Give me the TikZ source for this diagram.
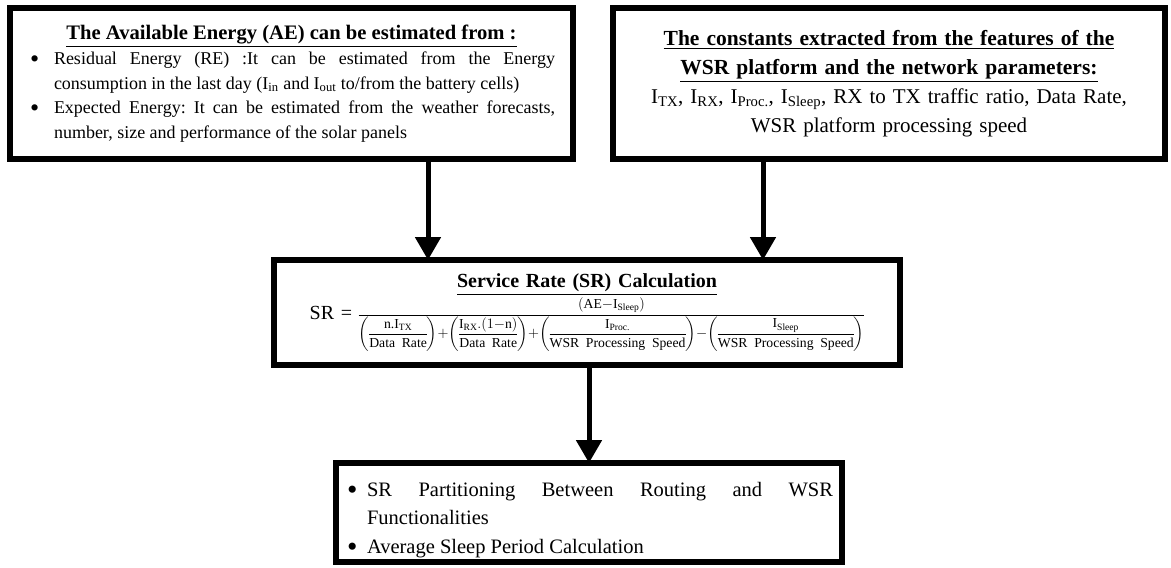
\documentclass[tikz,border=0pt]{standalone}
\usepackage{amsmath}
\usepackage{graphicx}
\usepackage{fontspec}
\setmainfont{Liberation Serif}
\usetikzlibrary{arrows.meta}

\tikzset{
    box/.style={draw, line width=6pt, inner sep=0pt, outer sep=0pt},
    flow/.style={line width=5pt, -{Triangle[length=23pt,width=25pt]}},
}
% 带圆点的条目 (悬挂缩进)
\newcommand{\bulitem}[2]{\par\hangindent=#1\hangafter=1\noindent\makebox[#1][l]{\hspace{2pt}\raisebox{-0.17em}{\scalebox{1.45}{\textbullet}}}#2}
% 分母中的括号分式
\newcommand{\pfrac}[2]{{\left(\dfrac{#1}{#2}\right)}}

\begin{document}
\frenchspacing
\begin{tikzpicture}[x=1pt, y=-1pt]
            % 画布大小 (与原图像素一致)
            \useasboundingbox (0,0) rectangle (1171,568);

            % 左上框: 可用能量
            \node[box, minimum width=563pt, minimum height=151pt, text width=527pt, align=justify,
                  font=\fontsize{18}{24.5}\selectfont] (ae) at (291.5,83.5) {%
                {\centering\fontsize{20.6}{27}\selectfont\bfseries\underline{The Available Energy (AE) can be estimated from :}\par}
                \vspace{1pt}
                \bulitem{26pt}{Residual Energy (RE) :It can be estimated from the Energy\linebreak
                    consumption in the last day (I\textsubscript{in} and I\textsubscript{out} to/from the battery cells)}
                \bulitem{26pt}{Expected Energy: It can be estimated from the weather forecasts,\linebreak
                    number, size and performance of the solar panels}\par};

            % 右上框: 平台常数
            \node[box, minimum width=552pt, minimum height=151pt, text width=540pt, align=center,
                  font=\fontsize{21}{29}\selectfont] (cst) at (889,83.5) {%
                {\fontsize{21.5}{29}\selectfont\bfseries\underline{The constants extracted from the features of the}}\\
                {\fontsize{21.5}{29}\selectfont\bfseries\underline{WSR platform and the network parameters:}}\\
                I\textsubscript{TX}, I\textsubscript{RX}, I\textsubscript{Proc.}, I\textsubscript{Sleep}, RX to TX traffic ratio, Data Rate,\\
                WSR platform processing speed};

            % 中间框: 服务速率计算
            \node[box, minimum width=626pt, minimum height=105pt, text width=610pt, align=center,
                  font=\fontsize{20}{24}\selectfont] (sr) at (587,312.5) {%
                {\bfseries\underline{Service Rate (SR) Calculation}}\\[1pt]
                SR = \raisebox{1.5pt}{\fontsize{13.7}{16}\selectfont\nulldelimiterspace=0pt$\dfrac{(\text{AE}{-}\text{I}_{\text{Sleep}})}%
                {\pfrac{\text{n.I}_{\text{TX}}}{\text{Data Rate}}{+}\pfrac{\text{I}_{\text{RX}}.(1{-}\text{n})}{\text{Data Rate}}{+}\pfrac{\text{I}_{\text{Proc.}}}{\text{WSR Processing Speed}}{-}\pfrac{\text{I}_{\text{Sleep}}}{\text{WSR Processing Speed}}}$}};

            % 下框: 结果
            \node[box, minimum width=506pt, minimum height=99pt, text width=488pt, align=justify,
                  font=\fontsize{20.5}{28.5}\selectfont] (out) at (589,512.5) {%
                \bulitem{22pt}{SR Partitioning Between Routing and WSR\linebreak Functionalities}
                \bulitem{22pt}{Average Sleep Period Calculation}\par};

            % 箭头的横向位置
            \coordinate (a1) at (428,0);
            \coordinate (a2) at (763,0);

            % 绘制箭头
            \draw[flow] (ae.south -| a1) -- (sr.north -| a1);   % 左框 -> 计算
            \draw[flow] (cst.south -| a2) -- (sr.north -| a2);  % 右框 -> 计算
            \draw[flow] (sr.south -| out.north) -- (out.north); % 计算 -> 结果
\end{tikzpicture}
\end{document}
